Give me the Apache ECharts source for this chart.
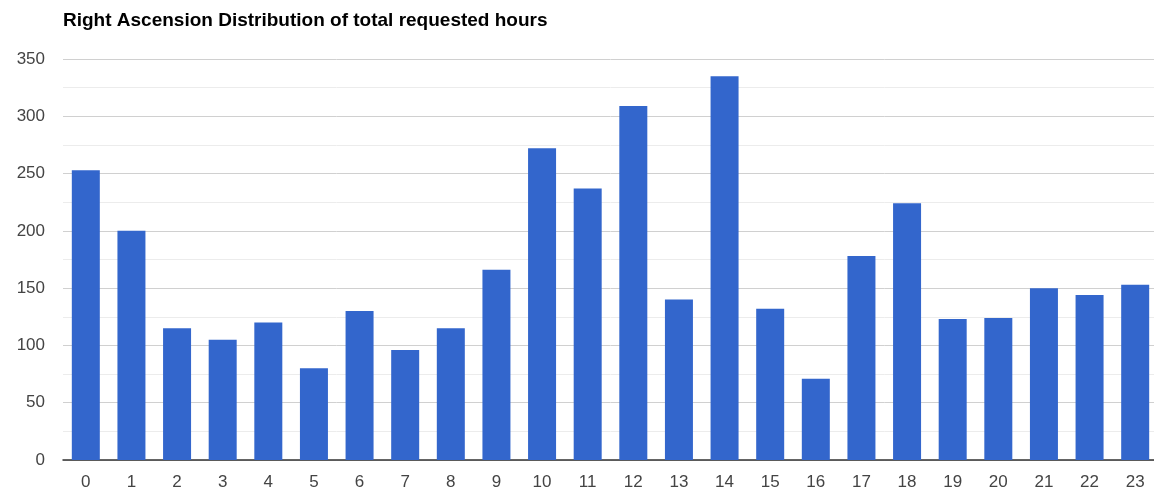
<!DOCTYPE html>
<html>
<head>
<meta charset="utf-8">
<title>Right Ascension Distribution</title>
<script src="https://cdn.jsdelivr.net/npm/echarts@6/dist/echarts.min.js"></script>
<style>
  html, body { margin: 0; padding: 0; background: #fff; overflow: hidden; }
  #main { width: 1160px; height: 493px; }
</style>
</head>
<body>
<div id="main"></div>
<script>
// RA hour bins
var hours = ['0','1','2','3','4','5','6','7','8','9','10','11','12','13','14','15','16','17','18','19','20','21','22','23'];
// total requested hours per bin
var requested = [253, 200, 115, 105, 120, 80, 130, 96, 115, 166, 272, 237, 309, 140, 335, 132, 71, 178, 224, 123, 124, 150, 144, 153];
var yTicks = [0, 350, 50];

var chart = echarts.init(document.getElementById('main'));
chart.setOption({
  animation: false,
  title: {
    text: 'Right Ascension Distribution of total requested hours',
    left: 58, top: 6,
    textStyle: { fontFamily: 'Liberation Sans', fontSize: 19, fontWeight: 'bold', color: '#000' }
  },
  grid: { left: 63, right: 2, top: 59, bottom: 33 },
  xAxis: {
    type: 'category',
    data: hours,
    axisTick: { show: false },
    axisLine: { lineStyle: { color: '#333', width: 1.5 } },
    axisLabel: { fontFamily: 'Liberation Sans', fontSize: 17, color: '#444', margin: 14 }
  },
  yAxis: {
    type: 'value',
    min: yTicks[0], max: yTicks[1], interval: yTicks[2],
    axisLabel: { fontFamily: 'Liberation Sans', fontSize: 17, color: '#444', margin: 18 },
    splitLine: { lineStyle: { color: '#d0d0d0', width: 1 } },
    minorTick: { show: false, splitNumber: 2 },
    minorSplitLine: { show: true, lineStyle: { color: '#ececec', width: 1 } }
  },
  series: [{
    type: 'bar',
    data: requested,
    barWidth: 28,
    itemStyle: { color: '#3366cc' }
  }]
});
</script>
</body>
</html>
